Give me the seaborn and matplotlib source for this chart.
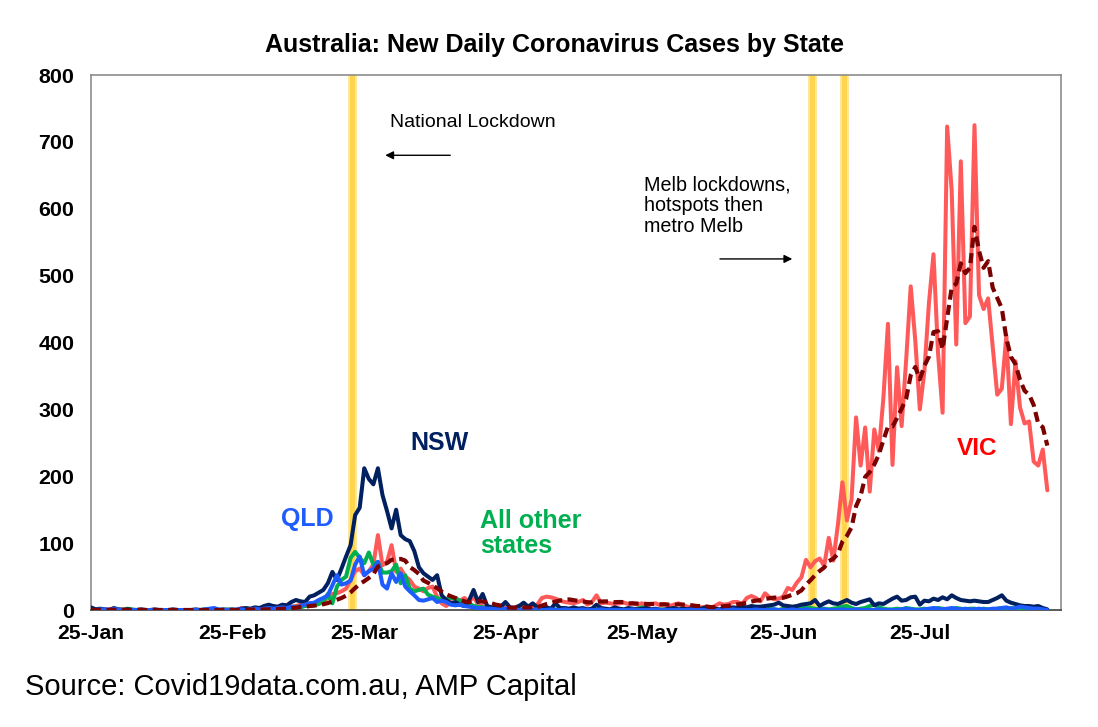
import matplotlib
matplotlib.use("Agg")
import matplotlib.pyplot as plt
import pandas as pd
import seaborn as sns

# daily new cases, one value per day starting 25-Jan-2020
start_date = "2020-01-25"

nsw = [
    4, 1, 2, 1, 0, 3, 1, 0, 1, 0,
    0, 1, 0, 0, 1, 0, 0, 0, 1, 0,
    0, 0, 0, 1, 0, 0, 0, 0, 0, 1,
    0, 1, 0, 2, 3, 2, 4, 3, 6, 8,
    6, 5, 8, 7, 12, 15, 13, 12, 20, 22,
    26, 30, 40, 57, 45, 62, 80, 97, 142, 153,
    212, 196, 188, 212, 172, 148, 122, 150, 112, 106,
    103, 88, 64, 55, 50, 45, 52, 22, 15, 10,
    12, 8, 6, 14, 30, 12, 24, 6, 4, 3,
    5, 12, 4, 3, 6, 11, 5, 10, 4, 3,
    4, 2, 10, 3, 3, 2, 4, 2, 3, 1,
    2, 8, 3, 2, 1, 4, 2, 1, 3, 2,
    1, 2, 3, 1, 2, 0, 1, 2, 3, 1,
    2, 1, 3, 1, 2, 4, 3, 2, 1, 3,
    3, 4, 3, 5, 4, 6, 5, 5, 6, 7,
    8, 11, 7, 6, 5, 6, 8, 9, 10, 15,
    6, 10, 13, 10, 9, 12, 15, 11, 9, 12,
    14, 16, 7, 10, 9, 13, 17, 20, 14, 15,
    19, 20, 8, 14, 13, 17, 15, 19, 16, 22,
    18, 15, 14, 13, 14, 13, 12, 12, 15, 18,
    22, 14, 11, 9, 7, 6, 6, 5, 6, 3, 1,
]

qld = [
    0, 0, 1, 1, 0, 2, 1, 0, 0, 0,
    0, 0, 0, 0, 0, 0, 0, 0, 0, 0,
    0, 0, 0, 0, 0, 1, 2, 3, 1, 0,
    0, 0, 1, 1, 0, 1, 2, 1, 2, 3,
    2, 3, 4, 3, 5, 4, 6, 8, 10, 11,
    15, 18, 22, 37, 52, 38, 40, 44, 68, 80,
    52, 58, 62, 72, 38, 32, 55, 42, 55, 35,
    28, 22, 15, 14, 16, 18, 12, 14, 12, 8,
    7, 8, 6, 5, 4, 3, 3, 2, 2, 1,
    1, 2, 1, 1, 0, 1, 0, 0, 1, 0,
    0, 1, 0, 0, 1, 0, 0, 0, 1, 0,
    0, 0, 1, 0, 0, 0, 0, 0, 0, 1,
    0, 0, 0, 0, 1, 0, 0, 0, 0, 0,
    0, 0, 1, 0, 0, 0, 0, 0, 0, 0,
    0, 1, 0, 0, 0, 0, 1, 0, 0, 0,
    1, 0, 0, 0, 1, 0, 0, 1, 0, 0,
    0, 1, 0, 0, 0, 1, 0, 0, 1, 0,
    0, 0, 0, 1, 0, 0, 0, 0, 1, 2,
    1, 0, 0, 1, 2, 3, 2, 1, 2, 3,
    2, 1, 2, 1, 1, 2, 1, 1, 2, 2,
    3, 4, 2, 3, 5, 4, 3, 2, 2, 1, 0,
]

other_states = [
    0, 1, 0, 0, 0, 0, 1, 0, 2, 1,
    0, 0, 0, 0, 0, 0, 0, 0, 0, 0,
    0, 0, 0, 0, 0, 1, 0, 0, 0, 0,
    1, 0, 0, 0, 1, 0, 1, 0, 1, 2,
    1, 2, 3, 2, 4, 5, 4, 6, 7, 7,
    9, 12, 24, 10, 35, 45, 50, 78, 87, 78,
    70, 86, 68, 72, 56, 56, 58, 68, 40, 52,
    32, 28, 30, 32, 23, 20, 18, 15, 16, 18,
    18, 14, 12, 10, 6, 5, 4, 3, 2, 2,
    2, 1, 1, 0, 1, 0, 1, 0, 0, 1,
    0, 0, 1, 0, 0, 0, 0, 1, 0, 0,
    0, 1, 0, 0, 0, 0, 1, 0, 0, 0,
    2, 4, 1, 0, 0, 1, 0, 0, 0, 0,
    1, 0, 0, 0, 0, 0, 1, 0, 0, 1,
    0, 0, 1, 0, 0, 0, 0, 1, 0, 2,
    1, 0, 2, 1, 3, 5, 6, 4, 3, 2,
    1, 2, 1, 2, 3, 5, 6, 3, 1, 2,
    3, 6, 8, 4, 2, 1, 1, 2, 1, 3,
    2, 1, 1, 2, 1, 2, 3, 2, 1, 2,
    3, 2, 1, 2, 2, 1, 2, 1, 1, 2,
    3, 2, 3, 2, 1, 2, 3, 2, 3, 1, 0,
]

vic = [
    1, 0, 0, 0, 1, 1, 0, 1, 0, 0,
    0, 0, 0, 0, 0, 0, 0, 0, 0, 0,
    0, 0, 0, 0, 0, 0, 0, 0, 0, 0,
    0, 0, 0, 3, 1, 0, 1, 0, 1, 2,
    3, 2, 4, 3, 5, 6, 8, 6, 10, 8,
    10, 13, 18, 24, 25, 28, 32, 45, 58, 62,
    52, 58, 68, 112, 67, 72, 97, 57, 62, 50,
    45, 35, 32, 28, 33, 35, 20, 10, 6, 12,
    10, 14, 18, 12, 20, 8, 6, 3, 2, 4,
    3, 5, 2, 4, 6, 3, 3, 4, 8, 18,
    20, 19, 17, 14, 12, 11, 10, 12, 15, 8,
    12, 22, 10, 11, 10, 9, 10, 11, 9, 10,
    8, 10, 6, 9, 10, 7, 9, 6, 8, 10,
    7, 5, 4, 3, 4, 5, 3, 6, 10, 8,
    9, 12, 12, 9, 18, 21, 18, 13, 25, 19,
    16, 17, 20, 33, 30, 41, 49, 75, 64, 73,
    77, 66, 108, 74, 127, 191, 134, 165, 288, 216,
    273, 177, 270, 238, 317, 428, 217, 363, 275, 374,
    484, 403, 300, 357, 459, 532, 384, 295, 723, 627,
    397, 671, 429, 439, 725, 471, 450, 466, 394, 322,
    331, 410, 278, 372, 303, 279, 282, 222, 216, 240, 179,
]

# VIC 7-day average (dashed line)
vic_avg = [
    0.1, 0.1, 0.1, 0.1, 0.3, 0.4, 0.4, 0.4, 0.4, 0.4,
    0.4, 0.3, 0.1, 0.1, 0, 0, 0, 0, 0, 0,
    0, 0, 0, 0, 0, 0, 0, 0, 0, 0,
    0, 0, 0, 0.4, 0.6, 0.6, 0.7, 0.7, 0.9, 1.1,
    1.1, 1.3, 1.9, 2.1, 2.9, 3.6, 4.4, 4.9, 6.0, 6.6,
    7.6, 8.7, 10.4, 12.7, 15.4, 18.0, 21.4, 26.4, 32.9, 39.1,
    43.1, 47.9, 53.6, 65.0, 68.1, 70.1, 75.1, 75.9, 76.4, 73.9,
    64.3, 59.7, 54.0, 44.1, 40.7, 36.9, 32.6, 27.6, 23.4, 20.6,
    18.0, 15.3, 12.9, 11.7, 13.1, 13.4, 12.6, 11.6, 9.9, 7.9,
    6.6, 4.4, 3.6, 3.3, 3.7, 3.9, 3.7, 3.9, 4.3, 6.6,
    8.9, 10.7, 12.7, 14.3, 15.4, 15.9, 14.7, 13.6, 13.0, 11.7,
    11.4, 12.9, 12.7, 12.9, 12.6, 11.7, 12.0, 11.9, 10.0, 10.0,
    9.6, 9.6, 9.1, 9.0, 8.9, 8.6, 8.4, 8.1, 7.9, 8.4,
    8.1, 7.4, 7.0, 6.1, 5.9, 5.4, 4.4, 4.3, 5.0, 5.6,
    6.4, 7.6, 8.6, 9.4, 11.1, 12.7, 14.1, 14.7, 16.6, 17.6,
    18.6, 18.4, 18.3, 20.4, 22.9, 25.1, 29.4, 37.9, 44.6, 52.1,
    58.4, 63.6, 73.1, 76.7, 84.1, 102.3, 111.0, 123.6, 155.3, 170.7,
    199.1, 206.3, 217.6, 232.4, 254.1, 274.1, 274.3, 287.1, 301.1, 316.0,
    351.1, 363.4, 345.1, 365.1, 378.9, 415.6, 417.0, 390.0, 435.7, 482.4,
    488.1, 518.4, 503.7, 511.6, 573.0, 537.0, 511.7, 521.6, 482.0, 466.7,
    451.3, 406.3, 378.7, 367.6, 344.3, 327.9, 322.1, 306.6, 278.9, 273.4, 245.9,
]

lockdown_dates = ["2020-03-22", "2020-07-01", "2020-07-08"]
tick_dates = pd.date_range("2020-01-25", "2020-08-25", freq=pd.DateOffset(months=1))

dates = pd.date_range(start_date, periods=len(vic), freq="D")
df = pd.DataFrame({
    "date": dates,
    "NSW": nsw,
    "QLD": qld,
    "All other states": other_states,
    "VIC": vic,
    "VIC avg": vic_avg,
})

sns.set_theme(style="white")
plt.rcParams["font.family"] = ["Liberation Sans", "DejaVu Sans"]
plt.rcParams["text.color"] = "black"

fig = plt.figure(figsize=(10.98, 7.27), dpi=100)
ax = fig.add_axes([0.0829, 0.1609, 0.8834, 0.7359])

# lockdown bands
day = pd.Timedelta(days=1)
for d in lockdown_dates:
    d = pd.Timestamp(d)
    ax.axvspan(d - 0.5 * day, d + 1.4 * day, color="#FFE699", lw=0, zorder=1)
    ax.axvspan(d - 0.1 * day, d + 1.0 * day, color="#FFD54F", lw=0, zorder=1)

sns.lineplot(data=df, x="date", y="VIC", ax=ax, color="#FF5A5A", linewidth=2.9, zorder=2)
sns.lineplot(data=df, x="date", y="All other states", ax=ax, color="#00B050", linewidth=2.9, zorder=3)
sns.lineplot(data=df, x="date", y="NSW", ax=ax, color="#002060", linewidth=2.9, zorder=4)
sns.lineplot(data=df, x="date", y="QLD", ax=ax, color="#1F5CFF", linewidth=2.9, zorder=5)
sns.lineplot(data=df, x="date", y="VIC avg", ax=ax, color="#7B0000", linewidth=3.0,
             linestyle=(0, (2.4, 1.3)), zorder=6)

ax.set_xlim(tick_dates[0], tick_dates[-1])
ax.set_ylim(0, 800)
ax.set_xticks(tick_dates)
ax.set_xticklabels([t.strftime("%d-%b") for t in tick_dates[:-1]] + [""])
ax.set_yticks(range(0, 801, 100))
ax.set_xlabel("")
ax.set_ylabel("")
ax.tick_params(axis="x", direction="out", length=5, width=1, color="#404040",
               labelsize=15.2, pad=5)
ax.tick_params(axis="y", length=0, labelsize=15.4, pad=12)
for lab in ax.get_xticklabels() + ax.get_yticklabels():
    lab.set_fontweight("bold")
    lab.set_color("black")

for side in ["left", "top", "right"]:
    ax.spines[side].set_color("#8C8C8C")
    ax.spines[side].set_linewidth(1.2)
ax.spines["bottom"].set_color("#404040")
ax.spines["bottom"].set_linewidth(1.2)

t0 = pd.Timestamp(start_date)

# annotations
ax.text(t0 + 65.6 * day, 729, "National Lockdown", fontsize=14, ha="left", va="center", color="black")
ax.annotate("", xy=(t0 + 64.0 * day, 680), xytext=(t0 + 79.5 * day, 680),
            arrowprops=dict(arrowstyle="-|>", color="black", lw=1, mutation_scale=12))
ax.text(t0 + 121.5 * day, 605, "Melb lockdowns,\nhotspots then\nmetro Melb", fontsize=14.2,
        ha="left", va="center", color="black", linespacing=1.12)
ax.annotate("", xy=(t0 + 154.6 * day, 525), xytext=(t0 + 137.5 * day, 525),
            arrowprops=dict(arrowstyle="-|>", color="black", lw=1, mutation_scale=12))

# series labels
ax.text(t0 + 76.5 * day, 250, "NSW", fontsize=18, fontweight="bold", color="#002060", ha="center", va="center")
ax.text(t0 + 47.4 * day, 136, "QLD", fontsize=18, fontweight="bold", color="#1F5CFF", ha="center", va="center")
ax.text(t0 + 85.5 * day, 115, "All other\nstates", fontsize=18, fontweight="bold", color="#00B050",
        ha="left", va="center", linespacing=1.05)
ax.text(t0 + 194.5 * day, 242, "VIC", fontsize=17.6, fontweight="bold", color="#FF0000", ha="center", va="center")

fig.text(0.505, 0.938, "Australia: New Daily Coronavirus Cases by State", fontsize=18,
         fontweight="bold", ha="center", va="center", color="black")
fig.text(0.0228, 0.055, "Source: Covid19data.com.au, AMP Capital", fontsize=21,
         ha="left", va="center", color="black")

fig.savefig("out.png", dpi=100)
